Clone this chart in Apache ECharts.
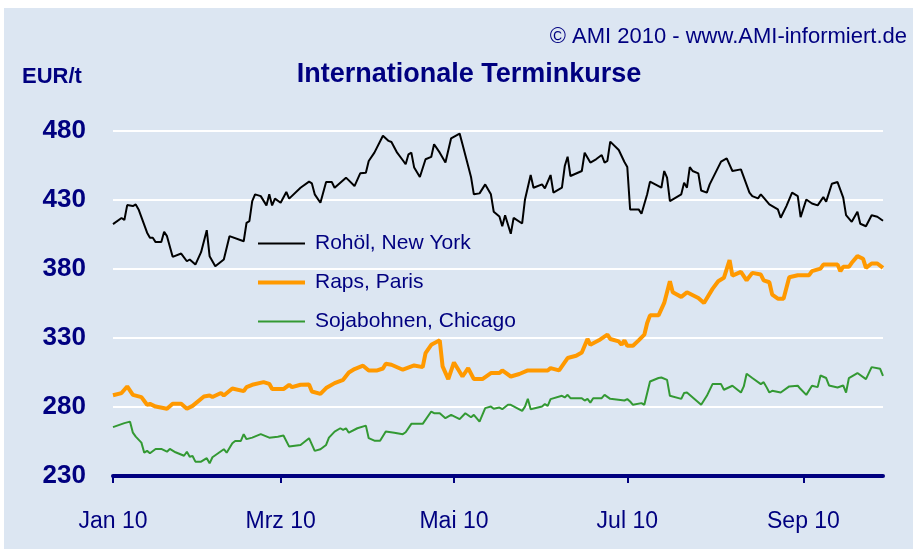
<!DOCTYPE html>
<html><head><meta charset="utf-8">
<script src="https://cdn.jsdelivr.net/npm/echarts@6/dist/echarts.min.js"></script>
<style>html,body{margin:0;padding:0;background:#ffffff}#c{width:917px;height:553px}</style>
</head><body><div id="c"></div>
<script>
const YEAR = 2010;
const axisStart = '01-01';
const axisEnd = '09-29';
const seriesNames = ['Rohöl, New York', 'Raps, Paris', 'Sojabohnen, Chicago'];
const tickDates = ['01-01', '03-01', '05-01', '07-01', '09-01'];
const tickLabels = ['Jan 10', 'Mrz 10', 'Mai 10', 'Jul 10', 'Sep 10'];
const yMin = 230, yMax = 480, yStep = 50;

const rohoel = [
['01-01',412.5],['01-04',417],['01-05',415.5],['01-06',426.3],['01-08',425.6],['01-09',426.8],['01-10',423.2],['01-11',417.6],
['01-13',406.3],['01-14',402.6],['01-15',402.6],['01-16',399.5],['01-18',399.5],['01-19',407],['01-20',403.8],['01-22',388.8],
['01-25',391.2],['01-27',385.6],['01-28',386.9],['01-30',383.2],['02-01',392.2],['02-03',408.1],['02-04',389.3],['02-06',382],
['02-09',386.9],['02-11',403.8],['02-16',400.1],['02-17',413.5],['02-18',414.7],['02-19',429.2],['02-20',434.1],['02-22',432.8],
['02-24',426.1],['02-25',434.1],['02-26',426.1],['02-27',431],['03-01',428],['03-03',435.8],['03-04',431],['03-08',438.9],
['03-11',443.3],['03-12',442],['03-13',434.1],['03-15',428],['03-17',443],['03-19',443],['03-20',438.9],['03-24',446.2],
['03-25',444.2],['03-27',440.1],['03-29',449.3],['03-31',449.8],['04-01',458.3],['04-03',464.3],['04-06',476.6],['04-08',472.8],
['04-09',472],['04-11',464.3],['04-13',458.8],['04-14',455.9],['04-15',463.1],['04-16',464.3],['04-17',453.5],['04-19',446.7],
['04-21',459.5],['04-23',461.2],['04-24',470.4],['04-26',464.3],['04-28',457.1],['04-30',474.7],['05-03',478.1],['05-04',470.4],
['05-06',454.6],['05-07',446.7],['05-08',434.1],['05-10',434.8],['05-12',441.3],['05-14',434.1],['05-15',421.5],['05-17',418],
['05-18',411],['05-19',419],['05-21',405.5],['05-22',417.1],['05-25',413],['05-26',430.4],['05-28',448.1],['05-29',438.9],
['06-01',441.3],['06-02',438.4],['06-04',448.1],['06-05',435.3],['06-08',438.9],['06-09',454.6],['06-10',461.4],['06-11',447.4],
['06-15',451],['06-16',464.3],['06-18',457.1],['06-20',459.5],['06-22',462.6],['06-23',457.1],['06-24',458.3],['06-25',472.3],
['06-28',466.2],['06-30',457.5],['07-01',453.9],['07-02',423.2],['07-05',423.2],['07-06',420],['07-08',434.1],['07-09',443.3],
['07-13',438.9],['07-14',451],['07-15',446.2],['07-16',429.2],['07-20',434.1],['07-21',442.6],['07-22',438.9],['07-23',453.9],
['07-24',451],['07-26',449.3],['07-27',436.9],['07-29',435.3],['07-30',441.3],['08-03',457.8],['08-05',460.2],['08-07',451],
['08-10',452.2],['08-13',435.3],['08-14',432.8],['08-16',431.2],['08-17',434.1],['08-18',431.7],['08-20',426.8],['08-23',423.2],
['08-24',417.1],['08-26',425.6],['08-28',435.3],['08-30',432.8],['08-31',417.6],['09-02',430.4],['09-04',427.5],['09-06',426.1],
['09-08',432.1],['09-09',428.8],['09-11',441.8],['09-13',443],['09-15',431.7],['09-16',419],['09-18',414.2],['09-20',421.5],
['09-21',412.8],['09-23',411],['09-25',419],['09-27',417.9],['09-29',415]
];

const raps = [
['01-01',288.5],['01-04',290.1],['01-06',294.9],['01-08',288.8],['01-11',287.2],['01-13',281.6],['01-14',282.3],['01-16',280.3],
['01-20',278.7],['01-22',282.3],['01-25',282.3],['01-27',278.7],['01-29',280.8],['02-02',287.6],['02-04',288.3],['02-05',287.2],
['02-08',290.1],['02-09',288.3],['02-12',293.4],['02-16',291.5],['02-17',294.4],['02-19',296.1],['02-23',298],['02-25',296.8],
['02-26',293],['03-02',293],['03-04',296.1],['03-05',294.4],['03-08',296.1],['03-11',296.3],['03-12',291.2],['03-15',289.5],
['03-17',293.7],['03-20',297.3],['03-23',299.7],['03-25',305],['03-27',307.5],['03-30',309.9],['04-01',306.5],['04-04',306.5],
['04-06',307.9],['04-07',311.3],['04-09',310.6],['04-13',307],['04-17',310.1],['04-20',308.9],['04-21',319.1],['04-23',325.1],
['04-26',328.3],['04-27',309.4],['04-29',300.2],['05-01',312.3],['05-04',302.1],['05-06',308.2],['05-08',300.2],['05-11',300.2],
['05-14',304.6],['05-17',304.6],['05-18',306.5],['05-21',302.1],['05-24',303.9],['05-27',306.5],['06-03',306.5],['06-04',308.2],
['06-07',306.5],['06-10',315.5],['06-13',317.1],['06-15',319.5],['06-17',329.3],['06-18',325.1],['06-21',328.3],['06-24',332.4],
['06-25',329.3],['06-28',327.5],['06-29',325.1],['06-30',328.3],['07-01',324.4],['07-03',324.4],['07-05',328.3],['07-07',332.4],
['07-08',340.9],['07-09',346.4],['07-12',346.4],['07-14',355.4],['07-16',371.1],['07-17',363.1],['07-20',359.8],['07-22',363.1],
['07-26',359],['07-28',355.4],['07-31',365.6],['08-02',371.1],['08-04',373.6],['08-06',386.4],['08-07',375.2],['08-10',377.9],
['08-12',371.8],['08-14',377.2],['08-17',376],['08-18',371.8],['08-20',370.4],['08-21',361.4],['08-23',358.5],['08-25',358.5],
['08-27',374],['08-30',375.5],['09-03',375.5],['09-04',378.4],['09-07',380.3],['09-08',383.2],['09-13',383.2],['09-14',378.4],
['09-15',381.6],['09-17',381.6],['09-18',384.5],['09-20',389.3],['09-22',387.4],['09-23',380.8],['09-25',384],['09-27',384],
['09-29',380.8]
];

const soja = [
['01-01',265.4],['01-05',268.3],['01-07',269.4],['01-08',261.4],['01-09',258.5],['01-11',254.2],['01-12',246.9],['01-13',248.2],
['01-14',246.5],['01-16',249.6],['01-18',249.6],['01-20',247.6],['01-21',249.6],['01-23',247.2],['01-26',244.7],['01-27',247.6],
['01-28',244],['01-29',244.5],['01-30',240.4],['02-01',240.4],['02-03',242.9],['02-04',239.2],['02-05',243.6],['02-07',246.5],
['02-09',249.4],['02-10',246.9],['02-12',253.7],['02-13',255.4],['02-15',255.4],['02-16',260.3],['02-17',256.7],['02-19',257.8],
['02-22',260.3],['02-25',257.8],['02-28',258.5],['03-02',259.3],['03-04',251.3],['03-08',252.5],['03-11',257.4],['03-13',248.2],
['03-15',249.4],['03-17',252.5],['03-18',257.8],['03-20',262.2],['03-22',264.6],['03-23',263.4],['03-24',264.6],['03-25',261.4],
['03-28',264.6],['03-31',266.5],['04-01',257.4],['04-03',255.6],['04-05',255.6],['04-07',262.2],['04-10',261.4],['04-13',260.3],
['04-14',261.7],['04-16',267.8],['04-20',267.8],['04-23',276.7],['04-24',275.5],['04-26',275.5],['04-28',271.9],['04-30',274.3],
['05-03',271.2],['05-05',275.5],['05-07',272.6],['05-08',274.3],['05-10',269.4],['05-12',279.2],['05-14',280.3],['05-15',278.7],
['05-17',279.6],['05-18',278.4],['05-20',281.6],['05-21',281.6],['05-25',277.2],['05-26',280.3],['05-27',285.9],['05-28',278.4],
['06-01',280.3],['06-02',282.1],['06-03',280.8],['06-04',285.7],['06-08',288.1],['06-09',286.9],['06-10',288.8],['06-11',286.4],
['06-15',286.4],['06-16',284.7],['06-17',285.9],['06-18',283.2],['06-19',286.4],['06-22',286.4],['06-23',288.8],['06-25',285.9],
['06-30',284.7],['07-01',285.7],['07-02',284],['07-03',281.6],['07-06',282.8],['07-07',281.6],['07-09',298.5],['07-12',301],
['07-13',301.4],['07-15',299.7],['07-16',288.1],['07-20',285.9],['07-21',290.1],['07-22',290.5],['07-27',281.6],['07-29',288.1],
['07-31',296.6],['08-03',296.6],['08-04',292.5],['08-07',295.4],['08-10',290.5],['08-11',294.9],['08-12',304.1],['08-14',301],
['08-17',296.6],['08-18',298],['08-19',294.4],['08-20',290.5],['08-21',291.7],['08-24',290.5],['08-27',294.9],['08-30',295.4],
['08-31',293],['09-02',288.8],['09-04',295.4],['09-06',294.4],['09-07',302.8],['09-09',301],['09-10',295.6],['09-13',294.1],
['09-15',295.6],['09-16',290.5],['09-17',301],['09-20',304.6],['09-23',300.2],['09-25',308.9],['09-28',307.7],['09-29',302.6]
];

function pad(n){return (n<10?'0':'')+n;}
const categories = [];
(function(){
  const [sm, sd] = axisStart.split('-').map(Number);
  const [em, ed] = axisEnd.split('-').map(Number);
  const d = new Date(Date.UTC(YEAR, sm-1, sd));
  const e = new Date(Date.UTC(YEAR, em-1, ed));
  while (d <= e) { categories.push(pad(d.getUTCMonth()+1)+'-'+pad(d.getUTCDate())); d.setUTCDate(d.getUTCDate()+1); }
})();

const NAVY = '#000080';
const FONT = 'Liberation Sans, Arial, sans-serif';
const colors = ['#000000', '#ff9900', '#339933'];
const widths = [2, 4, 2];
const legendTops = [233, 272, 311];
const chart = echarts.init(document.getElementById('c'), null, {renderer:'canvas'});
const isTick = (i, v) => tickDates.indexOf(v) >= 0;
chart.setOption({
  animation: false,
  backgroundColor: '#ffffff',
  graphic: [{type:'rect', z:-10, shape:{x:4,y:8,width:909,height:541}, style:{fill:'#dce6f2'}}],
  title: [
    {text:'Internationale Terminkurse', left:469, top:61, textAlign:'center', padding:0,
     textStyle:{color:NAVY, fontFamily:FONT, fontWeight:'bold', fontSize:27}},
    {text:'EUR/t', left:22, top:66, padding:0, textStyle:{color:NAVY, fontFamily:FONT, fontWeight:'bold', fontSize:22}},
    {text:'© AMI 2010 - www.AMI-informiert.de', right:10, top:26, padding:0, textStyle:{color:NAVY, fontFamily:FONT, fontWeight:'normal', fontSize:22}}
  ],
  legend: seriesNames.map((n, i) => ({
    left: 258, top: legendTops[i], orient:'vertical', padding:0, icon:'rect',
    itemWidth:47, itemHeight:widths[i],
    textStyle:{color:NAVY, fontFamily:FONT, fontSize:21, padding:[0,0,0,5]},
    data: [n]
  })),
  grid: {left:113, right:34, top:131, bottom:77, containLabel:false},
  xAxis: {
    type:'category', data:categories, boundaryGap:false,
    axisLine:{show:true, onZero:false, lineStyle:{color:NAVY, width:4}},
    axisTick:{show:true, interval:isTick, length:7, lineStyle:{color:NAVY, width:2}},
    axisLabel:{show:true, interval:isTick, margin:34, color:NAVY, fontFamily:FONT, fontSize:23,
      formatter:(v)=>{const k=tickDates.indexOf(v); return k>=0?tickLabels[k]:'';}},
    splitLine:{show:false}
  },
  yAxis: {
    type:'value', min:yMin, max:yMax, interval:yStep,
    axisLine:{show:false}, axisTick:{show:false},
    axisLabel:{color:NAVY, fontFamily:FONT, fontWeight:'bold', fontSize:26, margin:27},
    splitLine:{show:true, lineStyle:{color:'#ffffff', width:2}, showMinLine:false}
  },
  series: seriesNames.map((n, i) => ({
    name:n, type:'line', data:[rohoel, raps, soja][i], symbol:'none', connectNulls:true,
    lineStyle:{color:colors[i], width:widths[i]}, itemStyle:{color:colors[i]}, z:3-i
  }))
});
</script></body></html>
